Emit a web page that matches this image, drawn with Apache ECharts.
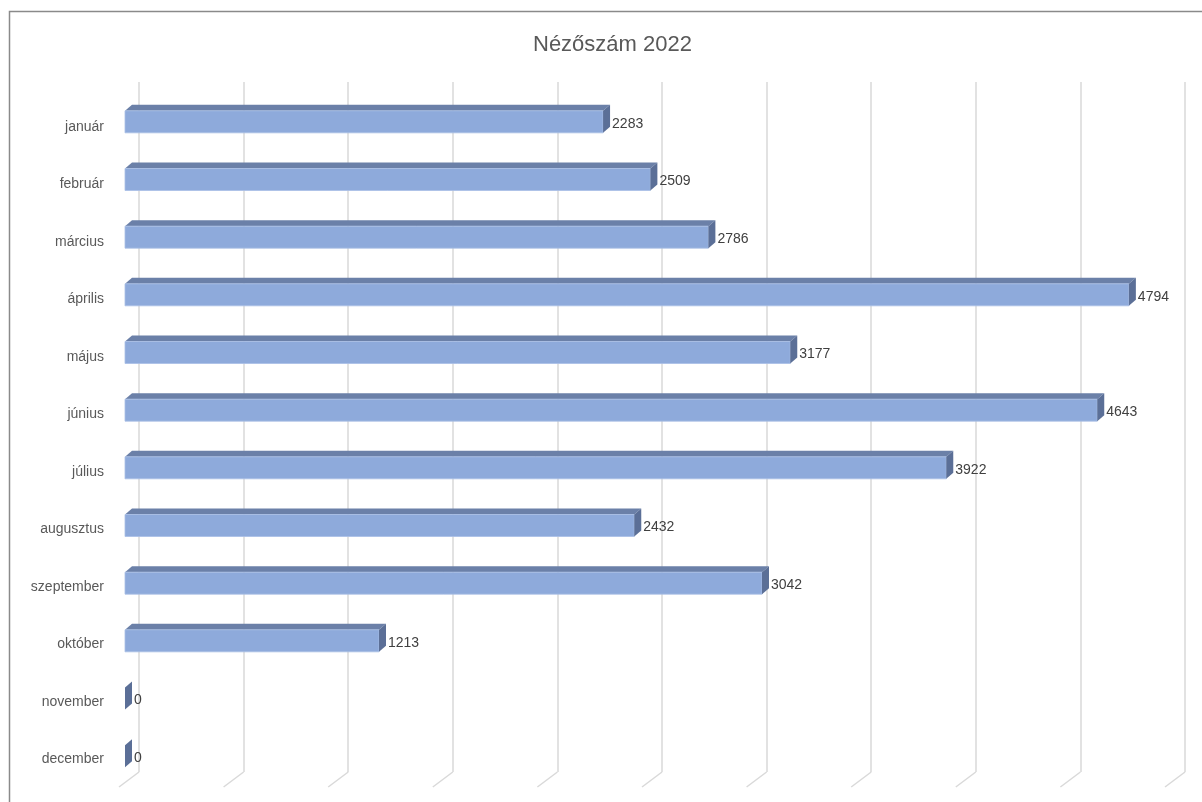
<!DOCTYPE html>
<html>
<head>
<meta charset="utf-8">
<script src="https://cdn.jsdelivr.net/npm/echarts@6/dist/echarts.min.js"></script>
<style>
html,body{margin:0;padding:0;background:#fff;}
#chart{width:1202px;height:802px;}
</style>
</head>
<body>
<div id="chart"></div>
<script>
const title = 'Nézőszám 2022';
const months = ['január','február','március','április','május','június','július','augusztus','szeptember','október','november','december'];
const viewers = [2283, 2509, 2786, 4794, 3177, 4643, 3922, 2432, 3042, 1213, 0, 0];
const axisMax = 5000;
const axisStep = 500;
const gridTicks = [0, 500, 1000, 1500, 2000, 2500, 3000, 3500, 4000, 4500, 5000];

const FONT = 'Liberation Sans';
const chart = echarts.init(document.getElementById('chart'), null, {renderer: 'canvas'});

const DX = 7, DY = 6, HALF = 11;

const option = {
  animation: false,
  backgroundColor: '#fff',
  title: {
    text: title,
    left: 528, top: 29,
    textStyle: {fontFamily: FONT, fontSize: 22, fontWeight: 'normal', color: '#595959'}
  },
  graphic: [{
    type: 'rect', silent: true, z: 100,
    shape: {x: 9.5, y: 11.5, width: 1300, height: 900},
    style: {fill: 'none', stroke: '#8a8a8a', lineWidth: 1.5}
  }],
  grid: [
    {left: 139, top: 82, width: 1046, height: 690},
    {left: 125, top: 93, width: 1047, height: 692},
    {left: 125, top: 98, width: 1047, height: 690}
  ],
  xAxis: [
    {gridIndex: 0, type: 'value', min: 0, max: axisMax, interval: axisStep,
     axisLabel: {show: false}, axisLine: {show: false}, axisTick: {show: false},
     splitLine: {show: true, lineStyle: {color: '#d9d9d9', width: 1.5}}},
    {gridIndex: 1, type: 'value', min: 0, max: axisMax, interval: axisStep,
     axisLabel: {show: false}, axisLine: {show: false}, axisTick: {show: false},
     splitLine: {show: false}},
    {gridIndex: 2, type: 'value', min: 0, max: axisMax, interval: axisStep, show: false}
  ],
  yAxis: [
    {gridIndex: 0, type: 'category', data: months, inverse: true, show: false},
    {gridIndex: 1, type: 'category', data: months, inverse: true, show: false},
    {gridIndex: 2, type: 'category', data: months, inverse: true,
     axisLine: {show: false}, axisTick: {show: false}, splitLine: {show: false},
     axisLabel: {margin: 21, color: '#595959', fontFamily: FONT, fontSize: 14}}
  ],
  series: [
    {
      type: 'custom', xAxisIndex: 0, yAxisIndex: 0, silent: true,
      data: gridTicks.map(t => [t, 0]),
      encode: {x: 0, y: 1},
      renderItem: function (params, api) {
        const cs = params.coordSys;
        const p = api.coord([api.value(0), 0]);
        const yb = cs.y + cs.height;
        return {
          type: 'line',
          shape: {x1: p[0], y1: yb, x2: p[0] - 20, y2: yb + 15},
          style: {stroke: '#d9d9d9', lineWidth: 1.5}
        };
      }
    },
    {
      type: 'custom', xAxisIndex: 1, yAxisIndex: 1, silent: true,
      data: viewers.map((v, i) => [v, i]),
      encode: {x: 0, y: 1},
      renderItem: function (params, api) {
        const v = api.value(0);
        const idx = api.value(1);
        const p0 = api.coord([0, idx]);
        const p1 = api.coord([v, idx]);
        const x0 = p0[0], x1 = p1[0], yc = p0[1];
        const top = yc - HALF, bot = yc + HALF;
        const children = [];
        if (x1 - x0 > 0.5) {
          children.push({
            type: 'polygon',
            shape: {points: [[x0, top], [x1, top], [x1 + DX, top - DY], [x0 + DX, top - DY]]},
            style: {fill: '#6b80a8'}
          });
          children.push({
            type: 'rect',
            shape: {x: x0, y: top, width: x1 - x0, height: bot - top},
            style: {fill: '#8eaadb', stroke: '#a9bfe6', lineWidth: 0.8}
          });
        }
        children.push({
          type: 'polygon',
          shape: {points: [[x1, top], [x1 + DX, top - DY], [x1 + DX, bot - DY], [x1, bot]]},
          style: {fill: '#5b6f97'}
        });
        children.push({
          type: 'text',
          style: {
            text: String(v), x: x1 + DX + 2, y: yc + 2,
            verticalAlign: 'middle', align: 'left',
            fill: '#404040', font: '14px "' + FONT + '"'
          }
        });
        return {type: 'group', children: children};
      }
    }
  ]
};
chart.setOption(option);
</script>
</body>
</html>
